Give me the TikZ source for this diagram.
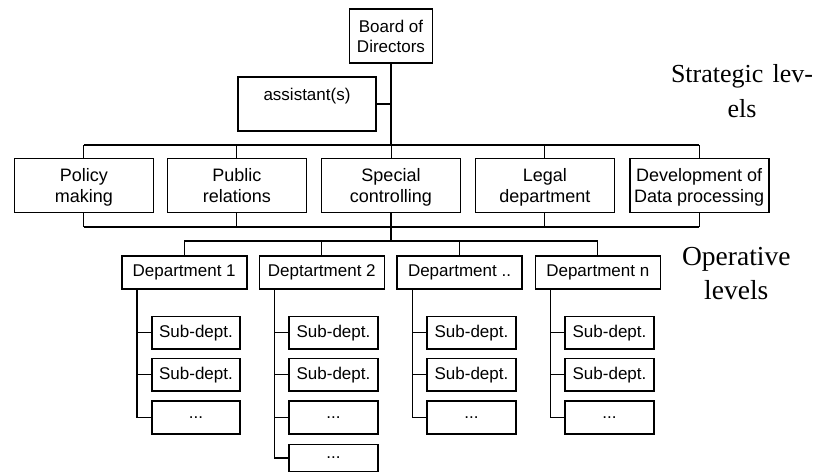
\documentclass[tikz,border=0pt]{standalone}
\usepackage{fontspec}
\setmainfont{Liberation Sans}
\newfontfamily\serifrm{Liberation Serif}
\newcommand\lst{\rule[-3pt]{0pt}{19.5pt}}
\begin{document}
\begin{tikzpicture}[x=1pt,y=-1pt,
  box/.style={draw, line width=1.6pt, inner sep=0pt, align=center, font=\fontsize{17}{20}\selectfont},
  lone/.style={box, minimum width=139pt, minimum height=54pt, font=\fontsize{18}{21}\selectfont},
  dept/.style={box, minimum width=125pt, minimum height=33pt},
  sub/.style={box, minimum width=88.5pt, minimum height=32.5pt},
  conn/.style={line width=1.2pt},
  thinconn/.style={line width=0.9pt},
  side/.style={anchor=base, inner sep=0pt}]
\useasboundingbox (0,0) rectangle (820,472);
% top
\node[box, minimum width=83pt, minimum height=54pt] (board) at (391,36) {Board of\\Directors};
\node[box, minimum width=138pt, minimum height=54pt] (asst) at (307,104) {assistant(s)\\\mbox{}};
% level 1
\node[lone] (policy)  at (83.8,185.5)  {\lst Policy\\making\lst};
\node[lone] (public)  at (236.8,185.5) {\lst Public\\relations\lst};
\node[lone] (special) at (391,185.5)   {\lst Special\\controlling\lst};
\node[lone] (legal)   at (544.8,185.5) {\lst Legal\\department\lst};
\node[lone] (dev)     at (699.2,185.5) {\lst Development of\\Data processing\lst};
% departments
\node[dept] (d1) at (184.2,272.5) {Department 1};
\node[dept] (d2) at (321.8,272.5) {Deptartment 2};
\node[dept] (d3) at (459.5,272.5) {Department ..};
\node[dept] (d4) at (597.8,272.5) {Department n};
% sub departments
\node[sub] (s11) at (196,332.7) {Sub-dept.};
\node[sub] (s12) at (196,374.7) {Sub-dept.};
\node[sub] (s13) at (196,417.5) {...};
\node[sub] (s21) at (333.5,332.7) {Sub-dept.};
\node[sub] (s22) at (333.5,374.7) {Sub-dept.};
\node[sub] (s23) at (333.5,417.5) {...};
\node[sub, minimum height=27pt] (s24) at (333.5,458) {...};
\node[sub] (s31) at (471.5,332.7) {Sub-dept.};
\node[sub] (s32) at (471.5,374.7) {Sub-dept.};
\node[sub] (s33) at (471.5,417.5) {...};
\node[sub] (s41) at (609.5,332.7) {Sub-dept.};
\node[sub] (s42) at (609.5,374.7) {Sub-dept.};
\node[sub] (s43) at (609.5,417.5) {...};
% side labels
\node[side, font={\serifrm\fontsize{26}{35}\selectfont}] (strat) at (742,82.7)
  {\begin{tabular}[t]{@{}c@{}}\makebox[142pt][s]{Strategic lev-}\\els\end{tabular}};
\node[side, font={\serifrm\fontsize{27.5}{34.3}\selectfont}] (oper) at (736.3,265)
  {\begin{tabular}[t]{@{}c@{}}Operative\\levels\end{tabular}};
% connectors
\coordinate (tbus) at (391,145);
\coordinate (lbus) at (391,227);
\coordinate (dbus) at (391,241);
\draw[conn] (board.south) -- (tbus);
\draw[conn] (asst.east) -- (asst.east -| tbus);
\draw[conn] (policy.north |- tbus) -- (dev.north |- tbus);
\foreach \n in {policy,public,special,legal,dev}
  \draw[thinconn] (\n.north) -- (\n.north |- tbus);
\draw[conn] (policy.south |- lbus) -- (dev.south |- lbus);
\foreach \n in {policy,public,legal,dev}
  \draw[conn] (\n.south) -- (\n.south |- lbus);
\draw[conn] (special.south) -- (dbus);
\draw[conn] (d1.north |- dbus) -- (d4.north |- dbus);
\foreach \n in {d1,d2,d3,d4}
  \draw[conn] (\n.north) -- (\n.north |- dbus);
% sub trees
\foreach \d/\last in {1/3,2/4,3/3,4/3}{
  \coordinate (v\d) at ([xshift=16pt]d\d.south west);
  \draw[conn] (v\d) |- (s\d\last.west);
  \foreach \k in {1,...,\last}
    \draw[conn] (s\d\k.west) -- (s\d\k.west -| v\d);
}
\end{tikzpicture}
\end{document}
